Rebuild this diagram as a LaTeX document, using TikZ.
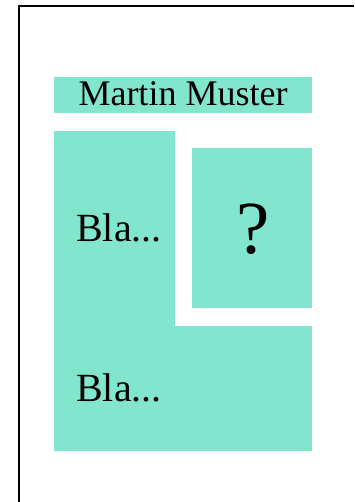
\documentclass[tikz,border=0pt]{standalone}
\usepackage{fontspec}
\setmainfont{Liberation Serif}
\definecolor{tealbox}{RGB}{130,230,206}
\begin{document}
\begin{tikzpicture}[x=1pt,y=-1pt,
  box/.style={fill=tealbox},
  label/.style={inner sep=0pt, text=black}]
\useasboundingbox (0,0) rectangle (354,502);
% frame
\draw[line width=2pt] (19,502) -- (19,6) -- (354,6);
% boxes
\fill[box] (54,77) rectangle (312,113);
\fill[box] (54,130.7) rectangle (174.7,326.5);
\fill[box] (191.7,148.3) rectangle (312,308.3);
\fill[box] (54,326) rectangle (312,450.7);
% texts
\node[label, anchor=base] (name) at (183,106) {\fontsize{36}{36}\selectfont Martin Muster};
\node[label, anchor=base west] (bla1) at (76,241.7) {\fontsize{40}{40}\selectfont Bla...};
\node[label, anchor=base] (q) at (252.8,253.3) {\fontsize{75}{75}\selectfont ?};
\node[label, anchor=base west] (bla2) at (76,401.7) {\fontsize{40}{40}\selectfont Bla...};
\end{tikzpicture}
\end{document}
